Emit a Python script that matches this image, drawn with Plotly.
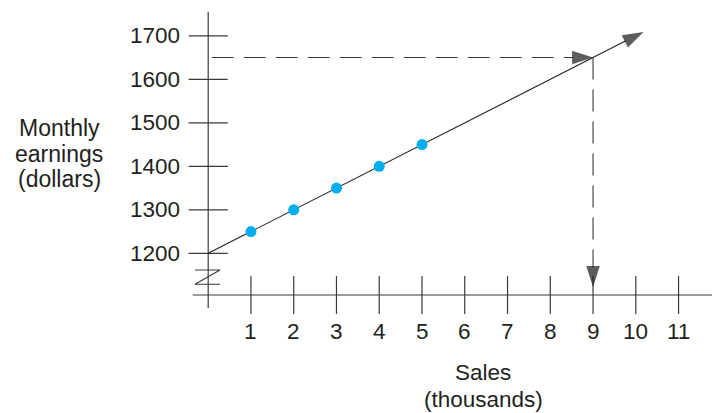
import plotly.graph_objects as go

# ---------------- data ----------------
SALES = [1, 2, 3, 4, 5]
EARNINGS = [1250, 1300, 1350, 1400, 1450]
X_TICKS = [1, 2, 3, 4, 5, 6, 7, 8, 9, 10, 11]
Y_TICKS = [1200, 1300, 1400, 1500, 1600, 1700]
TREND_X = [0, 10.18]
TREND_Y = [1200, 1709]
PREDICT_SALES = 9
PREDICT_EARNINGS = 1650
Y_TITLE_LINES = ["Monthly", "earnings", "(dollars)"]
X_TITLE_LINES = ["Sales", "(thousands)"]

# ---------------- geometry (pixel calibration) ----------------
W, H = 712, 413
PX_PER_X = 42.76
X0_PX = 208.2
PX_PER_Y = 0.435
Y1200_PX = 253.3


def dx(px):
    return (px - X0_PX) / PX_PER_X


def dy(py):
    return 1200 + (Y1200_PX - py) / PX_PER_Y


AX_COLOR = "#3a3a3a"
TXT_COLOR = "#231f20"
FONT = "Liberation Sans, Arial, Helvetica, sans-serif"
BASE_Y = dy(295)
ARROW = dict(symbol="arrow", size=[0, 22], angleref="previous",
             color="#1a1718", line=dict(width=0))

fig = go.Figure()

# y axis line
fig.add_trace(go.Scatter(x=[0, 0], y=[dy(308), dy(11.7)], mode="lines",
                         line=dict(color=AX_COLOR, width=1.2), hoverinfo="skip"))
# x axis line
fig.add_trace(go.Scatter(x=[dx(192.7), dx(W + 5)], y=[BASE_Y, BASE_Y], mode="lines",
                         line=dict(color=AX_COLOR, width=1.2), hoverinfo="skip"))
# x ticks
fig.add_trace(go.Scatter(x=X_TICKS, y=[BASE_Y] * len(X_TICKS), mode="markers",
                         marker=dict(symbol="line-ns", size=27,
                                     line=dict(color=AX_COLOR, width=1.2)),
                         hoverinfo="skip"))
# y ticks
fig.add_trace(go.Scatter(x=[0] * len(Y_TICKS), y=Y_TICKS, mode="markers",
                         marker=dict(symbol="line-ew", size=28,
                                     line=dict(color=AX_COLOR, width=1.2)),
                         hoverinfo="skip"))
# axis break zigzag
fig.add_trace(go.Scatter(x=[dx(195), dx(220), dx(195), dx(220)],
                         y=[dy(270), dy(270), dy(284.3), dy(284.3)], mode="lines",
                         line=dict(color=AX_COLOR, width=1.1), hoverinfo="skip"))

# dashed guides with arrowheads
fig.add_trace(go.Scatter(x=[dx(211.7), PREDICT_SALES], y=[PREDICT_EARNINGS, PREDICT_EARNINGS],
                         mode="lines+markers",
                         line=dict(color=AX_COLOR, width=1.1, dash="22px,10px"),
                         marker=ARROW, hoverinfo="skip"))
fig.add_trace(go.Scatter(x=[PREDICT_SALES, PREDICT_SALES], y=[PREDICT_EARNINGS, dy(287)],
                         mode="lines+markers",
                         line=dict(color=AX_COLOR, width=1.1, dash="22px,10px"),
                         marker=ARROW, hoverinfo="skip"))

# trend line with arrow
fig.add_trace(go.Scatter(x=TREND_X, y=TREND_Y, mode="lines+markers",
                         line=dict(color="#231f20", width=1.1),
                         marker=ARROW, hoverinfo="skip"))

# data points
fig.add_trace(go.Scatter(x=SALES, y=EARNINGS, mode="markers",
                         marker=dict(color="#00aeef", size=11, line=dict(width=0))))

annotations = []
for v in Y_TICKS:
    annotations.append(dict(x=dx(182), y=v, text=str(v), showarrow=False,
                            xanchor="right", yanchor="middle",
                            font=dict(size=22.5, color=TXT_COLOR, family=FONT)))
for v in X_TICKS:
    annotations.append(dict(x=v, y=dy(331.5), text=str(v), showarrow=False,
                            xanchor="center", yanchor="middle",
                            font=dict(size=22.5, color=TXT_COLOR, family=FONT)))
for i, t in enumerate(Y_TITLE_LINES):
    annotations.append(dict(x=dx(59), y=dy(128 + 25.5 * i), text=t, showarrow=False,
                            xanchor="center", yanchor="middle",
                            font=dict(size=23, color=TXT_COLOR, family=FONT)))
for i, t in enumerate(X_TITLE_LINES):
    annotations.append(dict(x=dx(483), y=dy(372.5 + 26.5 * i), text=t, showarrow=False,
                            xanchor="center", yanchor="middle",
                            font=dict(size=22.5, color=TXT_COLOR, family=FONT)))

fig.update_layout(
    width=W, height=H,
    margin=dict(l=0, r=0, t=0, b=0),
    paper_bgcolor="white", plot_bgcolor="white",
    showlegend=False,
    annotations=annotations,
    xaxis=dict(range=[dx(0), dx(W)], visible=False, fixedrange=True),
    yaxis=dict(range=[dy(H), dy(0)], visible=False, fixedrange=True),
)

fig.write_html("out.html", config={"displayModeBar": False},
               post_script="document.body.style.margin='0';document.body.style.overflow='hidden';")
